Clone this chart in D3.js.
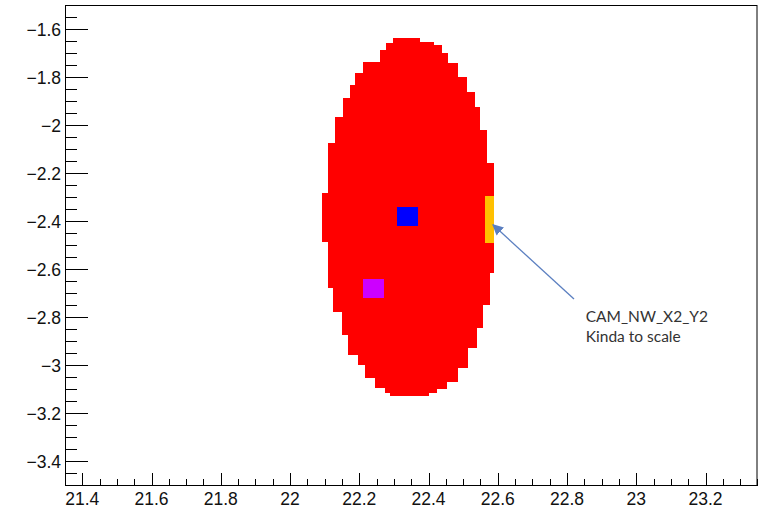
<!DOCTYPE html>
<html>
<head>
<meta charset="utf-8">
<script src="https://cdn.jsdelivr.net/npm/d3@7"></script>
<style>
  html, body { margin: 0; padding: 0; background: #fff; }
  svg { display: block; }
</style>
</head>
<body>
<svg id="chart" width="767" height="510"></svg>
<script>
// Axis ranges and tick labels
const xDomain = [21.35, 23.35];
const yDomain = [-3.5, -1.5];
const xMajorTicks = [21.4, 21.6, 21.8, 22.0, 22.2, 22.4, 22.6, 22.8, 23.0, 23.2];
const xTickLabels = ["21.4", "21.6", "21.8", "22", "22.2", "22.4", "22.6", "22.8", "23", "23.2"];
const yMajorTicks = [-1.6, -1.8, -2.0, -2.2, -2.4, -2.6, -2.8, -3.0, -3.2, -3.4];
const yTickLabels = ["\u22121.6", "\u22121.8", "\u22122", "\u22122.2", "\u22122.4", "\u22122.6", "\u22122.8", "\u22123", "\u22123.2", "\u22123.4"];

// Coverage region outline: each entry is [row top y, edge x], row runs to the next entry
const coverageLeft = [
  [-1.6375, 22.298], [-1.66, 22.278], [-1.6875, 22.260], [-1.7375, 22.211], [-1.783, 22.187],
  [-1.833, 22.173], [-1.8875, 22.153], [-1.967, 22.130], [-2.075, 22.110],
  [-2.283, 22.092], [-2.4875, 22.110], [-2.679, 22.124], [-2.779, 22.150],
  [-2.875, 22.167], [-2.958, 22.196], [-3.0, 22.216], [-3.054, 22.245],
  [-3.096, 22.274], [-3.115, 22.29]
];
const coverageRight = [
  [-1.6375, 22.375], [-1.655, 22.415], [-1.667, 22.439], [-1.700, 22.456], [-1.742, 22.485],
  [-1.800, 22.511], [-1.8625, 22.534], [-1.925, 22.548], [-2.021, 22.569],
  [-2.158, 22.589], [-2.617, 22.577], [-2.750, 22.557], [-2.846, 22.540],
  [-2.929, 22.514], [-3.0125, 22.485], [-3.071, 22.453], [-3.1, 22.425], [-3.115, 22.40]
];
const coverageBottom = -3.13;

// Individual sensor boxes: [x0, x1, y0, y1]
const boxNames = ["blue", "magenta", "CAM_NW_X2_Y2"];
const boxExtents = [
  [22.31, 22.37, -2.42, -2.34],
  [22.21, 22.27, -2.72, -2.64],
  [22.563, 22.59, -2.49, -2.296]
];
const boxColors = ["#0000ff", "#cc00ff", "#ffc000"];

// Annotation: arrow tail, arrow tip, text anchor (data coordinates)
const noteTail = [22.82, -2.725];
const noteTip = [22.586, -2.416];
const noteAnchor = [22.854, -2.82];
const noteLines = ["CAM_NW_X2_Y2", "Kinda to scale"];

const svg = d3.select("#chart");
const frame = { left: 65, right: 757.5, top: 5, bottom: 485 };

const x = d3.scaleLinear().domain(xDomain).range([frame.left, frame.right]);
const y = d3.scaleLinear().domain(yDomain).range([frame.bottom, frame.top]);

// Coverage polygon with stair-step edges
function stepPoints(rows, bottom) {
  const pts = [];
  rows.forEach((r, i) => {
    const yTop = r[0];
    const yBot = i + 1 < rows.length ? rows[i + 1][0] : bottom;
    pts.push([x(r[1]), y(yTop)], [x(r[1]), y(yBot)]);
  });
  return pts;
}
const rightPts = stepPoints(coverageRight, coverageBottom);
const leftPts = stepPoints(coverageLeft, coverageBottom).reverse();
svg.append("path")
  .attr("d", d3.line()(rightPts.concat(leftPts)) + "Z")
  .attr("fill", "#ff0000")
  .attr("shape-rendering", "crispEdges");

// Sensor boxes
svg.append("g").selectAll("rect")
  .data(boxExtents)
  .join("rect")
  .attr("x", d => x(d[0]))
  .attr("y", d => y(d[3]))
  .attr("width", d => x(d[1]) - x(d[0]))
  .attr("height", d => y(d[2]) - y(d[3]))
  .attr("fill", (d, i) => boxColors[i])
  .attr("shape-rendering", "crispEdges");

// Frame
svg.append("rect")
  .attr("x", frame.left + 0.5).attr("y", frame.top + 0.5)
  .attr("width", frame.right - frame.left - 1).attr("height", frame.bottom - frame.top)
  .attr("fill", "none").attr("stroke", "#000").attr("stroke-width", 1);

// Minor ticks every 0.05
const xMinor = d3.range(21.4, 23.35, 0.05).filter(v => !xMajorTicks.some(m => Math.abs(m - v) < 1e-6));
const yMinor = d3.range(-3.45, -1.5, 0.05).filter(v => !yMajorTicks.some(m => Math.abs(m - v) < 1e-6));

const ticks = svg.append("g").attr("stroke", "#000").attr("stroke-width", 1).attr("shape-rendering", "crispEdges");
const xb = frame.bottom + 0.5;
ticks.selectAll(".xmaj").data(xMajorTicks).join("line")
  .attr("x1", d => Math.round(x(d)) + 0.5).attr("x2", d => Math.round(x(d)) + 0.5)
  .attr("y1", xb).attr("y2", xb - 13);
ticks.selectAll(".xmin").data(xMinor).join("line")
  .attr("x1", d => Math.round(x(d)) + 0.5).attr("x2", d => Math.round(x(d)) + 0.5)
  .attr("y1", xb).attr("y2", xb - 7);
const yl = frame.left + 0.5;
ticks.selectAll(".ymaj").data(yMajorTicks).join("line")
  .attr("y1", d => Math.round(y(d)) + 0.5).attr("y2", d => Math.round(y(d)) + 0.5)
  .attr("x1", yl).attr("x2", yl + 22);
ticks.selectAll(".ymin").data(yMinor).join("line")
  .attr("y1", d => Math.round(y(d)) + 0.5).attr("y2", d => Math.round(y(d)) + 0.5)
  .attr("x1", yl).attr("x2", yl + 11);

// Tick labels
const labelFont = "'Liberation Sans', Arial, Helvetica, sans-serif";
svg.append("g").selectAll("text").data(xMajorTicks).join("text")
  .attr("x", d => x(d)).attr("y", 505)
  .attr("text-anchor", "middle")
  .attr("font-family", labelFont).attr("font-size", 17.5).attr("fill", "#111")
  .text((d, i) => xTickLabels[i]);
svg.append("g").selectAll("text").data(yMajorTicks).join("text")
  .attr("x", 61).attr("y", d => y(d) + 6.5)
  .attr("text-anchor", "end")
  .attr("font-family", labelFont).attr("font-size", 17.5).attr("fill", "#111")
  .text((d, i) => yTickLabels[i]);

// Annotation arrow
const arrowColor = "#5b7fc0";
svg.append("defs").append("marker")
  .attr("id", "head").attr("viewBox", "0 0 10 10")
  .attr("refX", 9).attr("refY", 5)
  .attr("markerWidth", 11).attr("markerHeight", 11)
  .attr("markerUnits", "userSpaceOnUse")
  .attr("orient", "auto")
  .append("path").attr("d", "M0,0 L10,5 L0,10 Z").attr("fill", arrowColor);
svg.append("line")
  .attr("x1", x(noteTail[0])).attr("y1", y(noteTail[1]))
  .attr("x2", x(noteTip[0])).attr("y2", y(noteTip[1]))
  .attr("stroke", arrowColor).attr("stroke-width", 1.3)
  .attr("marker-end", "url(#head)");

svg.append("g").selectAll("text").data(noteLines).join("text")
  .attr("x", x(noteAnchor[0]))
  .attr("y", (d, i) => y(noteAnchor[1]) + i * 20.5)
  .attr("font-family", "Lato, 'Open Sans', sans-serif")
  .attr("font-size", 15.5).attr("fill", "#333")
  .text(d => d);
</script>
</body>
</html>
